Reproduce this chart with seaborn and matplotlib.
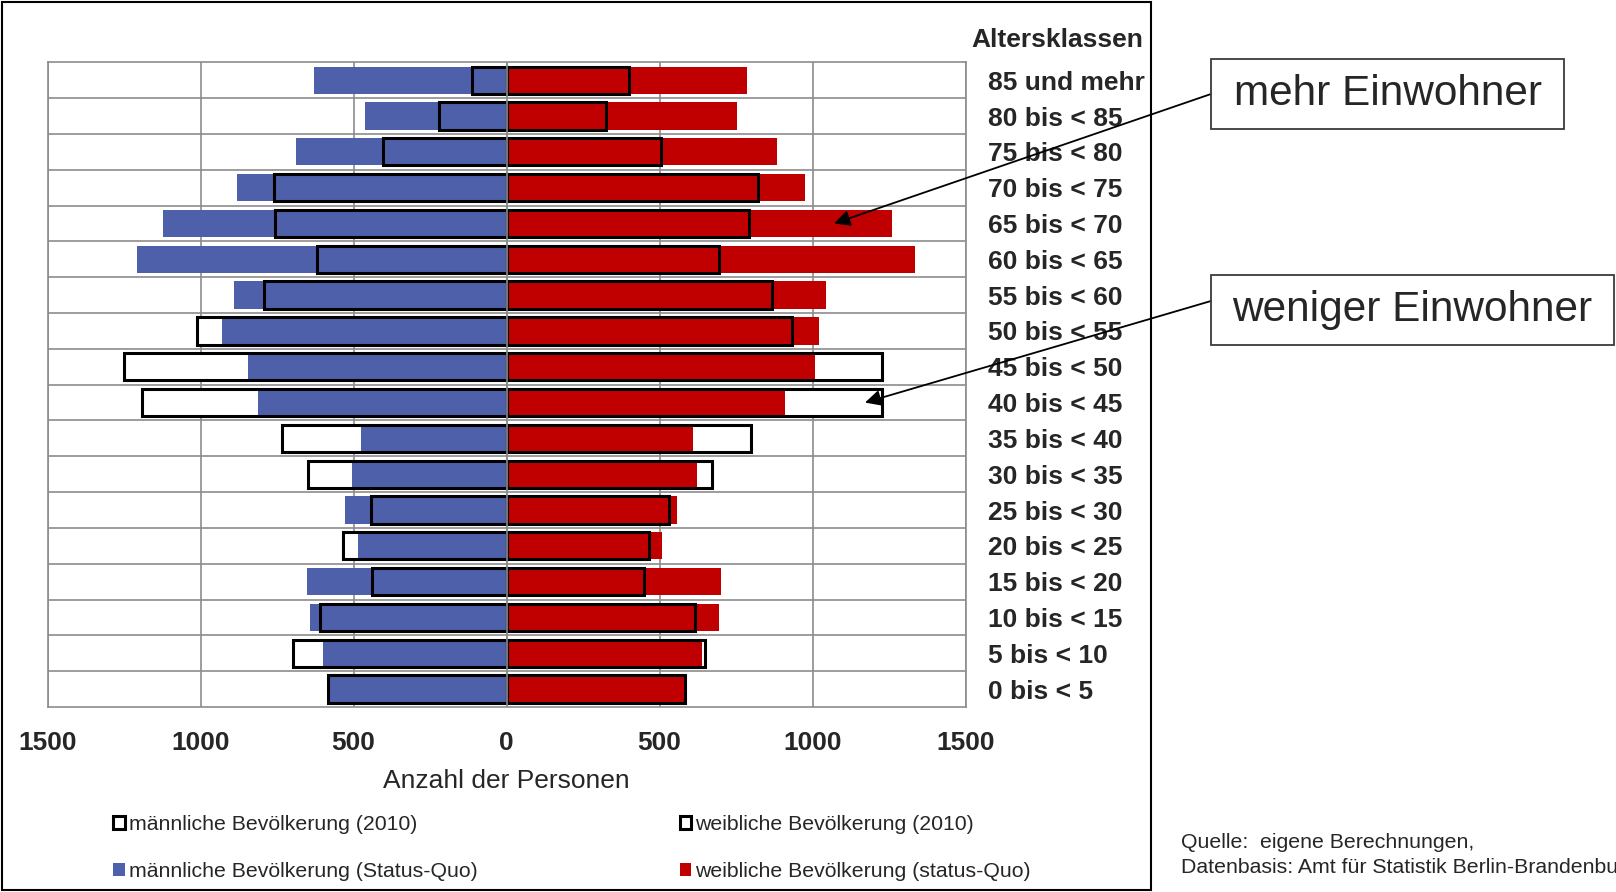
import matplotlib
matplotlib.use('Agg')
import matplotlib.pyplot as plt
from matplotlib.patches import Rectangle, Patch
from matplotlib.ticker import FuncFormatter
import numpy as np
import seaborn as sns

sns.set_style("white")
plt.rcParams['font.family'] = ['Liberation Sans', 'DejaVu Sans']

# Altersklassen von oben nach unten
altersklassen = ['85 und mehr', '80 bis < 85', '75 bis < 80', '70 bis < 75',
                 '65 bis < 70', '60 bis < 65', '55 bis < 60', '50 bis < 55',
                 '45 bis < 50', '40 bis < 45', '35 bis < 40', '30 bis < 35',
                 '25 bis < 30', '20 bis < 25', '15 bis < 20', '10 bis < 15',
                 '5 bis < 10', '0 bis < 5']

maennlich_sq = [629, 462, 687, 881, 1121, 1208, 892, 930, 844, 812,
                475, 504, 527, 487, 653, 643, 601, 577]
maennlich_2010 = [113, 220, 403, 760, 756, 620, 792, 1011, 1251, 1192,
                  735, 648, 442, 534, 439, 610, 697, 583]
weiblich_sq = [787, 752, 885, 975, 1259, 1334, 1042, 1020, 1006, 908,
               609, 621, 558, 507, 699, 694, 637, 582]
weiblich_2010 = [401, 326, 505, 821, 791, 695, 868, 932, 1225, 1228,
                 800, 672, 530, 466, 449, 614, 649, 584]

x_ticks = [-1500, -1000, -500, 0, 500, 1000, 1500]

BLAU = '#4F60AA'
ROT = '#C00000'
GRAU = '#8c8c8c'
W, H = 1616, 892

fig = plt.figure(figsize=(16.16, 8.92), dpi=100)
ax = fig.add_axes([47.5 / W, 1 - 707 / H, (965.7 - 47.5) / W, (707 - 62.3) / H])

bw = 0.76
m10 = -np.array(maennlich_2010)
msq = -np.array(maennlich_sq)

# 2010 weiss hinterlegt, dann Status-Quo, dann schwarzer Rahmen
sns.barplot(x=m10, y=altersklassen, order=altersklassen, orient='h', color='white',
            saturation=1, width=bw, linewidth=0, ax=ax)
sns.barplot(x=weiblich_2010, y=altersklassen, order=altersklassen, orient='h', color='white',
            saturation=1, width=bw, linewidth=0, ax=ax)
sns.barplot(x=msq, y=altersklassen, order=altersklassen, orient='h', color=BLAU,
            saturation=1, width=bw, linewidth=0, ax=ax)
sns.barplot(x=weiblich_sq, y=altersklassen, order=altersklassen, orient='h', color=ROT,
            saturation=1, width=bw, linewidth=0, ax=ax)
sns.barplot(x=m10, y=altersklassen, order=altersklassen, orient='h', fill=False,
            color='black', width=bw, linewidth=2.2, ax=ax)
sns.barplot(x=weiblich_2010, y=altersklassen, order=altersklassen, orient='h', fill=False,
            color='black', width=bw, linewidth=2.2, ax=ax)

ax.axvline(0, color=GRAU, lw=1.2, zorder=6)

ax.set_xlim(-1500, 1500)
ax.set_xticks(x_ticks)
ax.xaxis.set_major_formatter(FuncFormatter(lambda v, p: f'{abs(int(v))}'))
ax.set_axisbelow(True)
ax.grid(axis='x', which='major', color=GRAU, lw=1.2)
ax.set_yticks(np.arange(0.5, len(altersklassen) - 1, 1), minor=True)
ax.grid(axis='y', which='minor', color=GRAU, lw=1.2)
ax.grid(axis='y', which='major', visible=False)
for s in ax.spines.values():
    s.set_color(GRAU)
    s.set_linewidth(1.2)

ax.yaxis.tick_right()
ax.tick_params(axis='y', which='both', length=0, pad=16, labelsize=19)
ax.tick_params(axis='x', which='major', length=6, width=1.2, color=GRAU, pad=11, labelsize=19)
for lbl in ax.get_yticklabels() + ax.get_xticklabels():
    lbl.set_fontweight('bold')
ax.set_ylabel('')
ax.set_xlabel('Anzahl der Personen', fontsize=19, labelpad=10.5)

fig.text(971 / W, 1 - 40 / H, 'Altersklassen', fontsize=19, fontweight='bold',
         ha='left', va='center')

# Legende
handles = [Patch(facecolor='white', edgecolor='black', lw=2.2),
           Patch(facecolor=BLAU, edgecolor='none'),
           Patch(facecolor='white', edgecolor='black', lw=2.2),
           Patch(facecolor=ROT, edgecolor='none')]
labels = ['männliche Bevölkerung (2010)', 'männliche Bevölkerung (Status-Quo)',
          'weibliche Bevölkerung (2010)', 'weibliche Bevölkerung (status-Quo)']
fig.legend(handles, labels, ncol=2, loc='upper left', bbox_to_anchor=(113 / W, 1 - 815 / H),
           frameon=False, fontsize=15.3, handlelength=0.55, handleheight=0.55,
           handletextpad=0.2, columnspacing=9.5, labelspacing=1.3, borderpad=0, borderaxespad=0)

# Textboxen mit Pfeilen
for (x0, y0, x1, y1, txt) in [(1211, 59, 1564, 129, 'mehr Einwohner'),
                              (1211, 275, 1614, 345, 'weniger Einwohner')]:
    fig.patches.append(Rectangle((x0 / W, 1 - y1 / H), (x1 - x0) / W, (y1 - y0) / H,
                                 transform=fig.transFigure, fill=False,
                                 ec='#3a3a3a', lw=1.3))
    fig.text((x0 + x1) / 2 / W, 1 - (y0 + y1) / 2 / H, txt, fontsize=30.5,
             ha='center', va='center')

ax.annotate('', xy=(1070, 4), xycoords='data', xytext=(1211 / W, 1 - 94 / H),
            textcoords='figure fraction', annotation_clip=False,
            arrowprops=dict(arrowstyle='-|>', color='black', lw=1.3, mutation_scale=24,
                            shrinkA=0, shrinkB=0))
ax.annotate('', xy=(1171, 9), xycoords='data', xytext=(1211 / W, 1 - 301 / H),
            textcoords='figure fraction', annotation_clip=False,
            arrowprops=dict(arrowstyle='-|>', color='black', lw=1.3, mutation_scale=24,
                            shrinkA=0, shrinkB=0))

# Quelle (im Original am Rand abgeschnitten)
fig.text(1181 / W, 1 - 855 / H, 'Quelle:  eigene Berechnungen,\nDatenbasis: Amt für Statistik Berlin-Brandenburg',
         fontsize=15.3, ha='left', va='center', linespacing=1.35)

# Rahmen um das Diagramm
fig.patches.append(Rectangle((2 / W, 1 - 890 / H), 1149 / W, 888 / H, transform=fig.transFigure,
                             fill=False, ec='black', lw=1.5))

fig.savefig('out.png', dpi=100, facecolor='white')
